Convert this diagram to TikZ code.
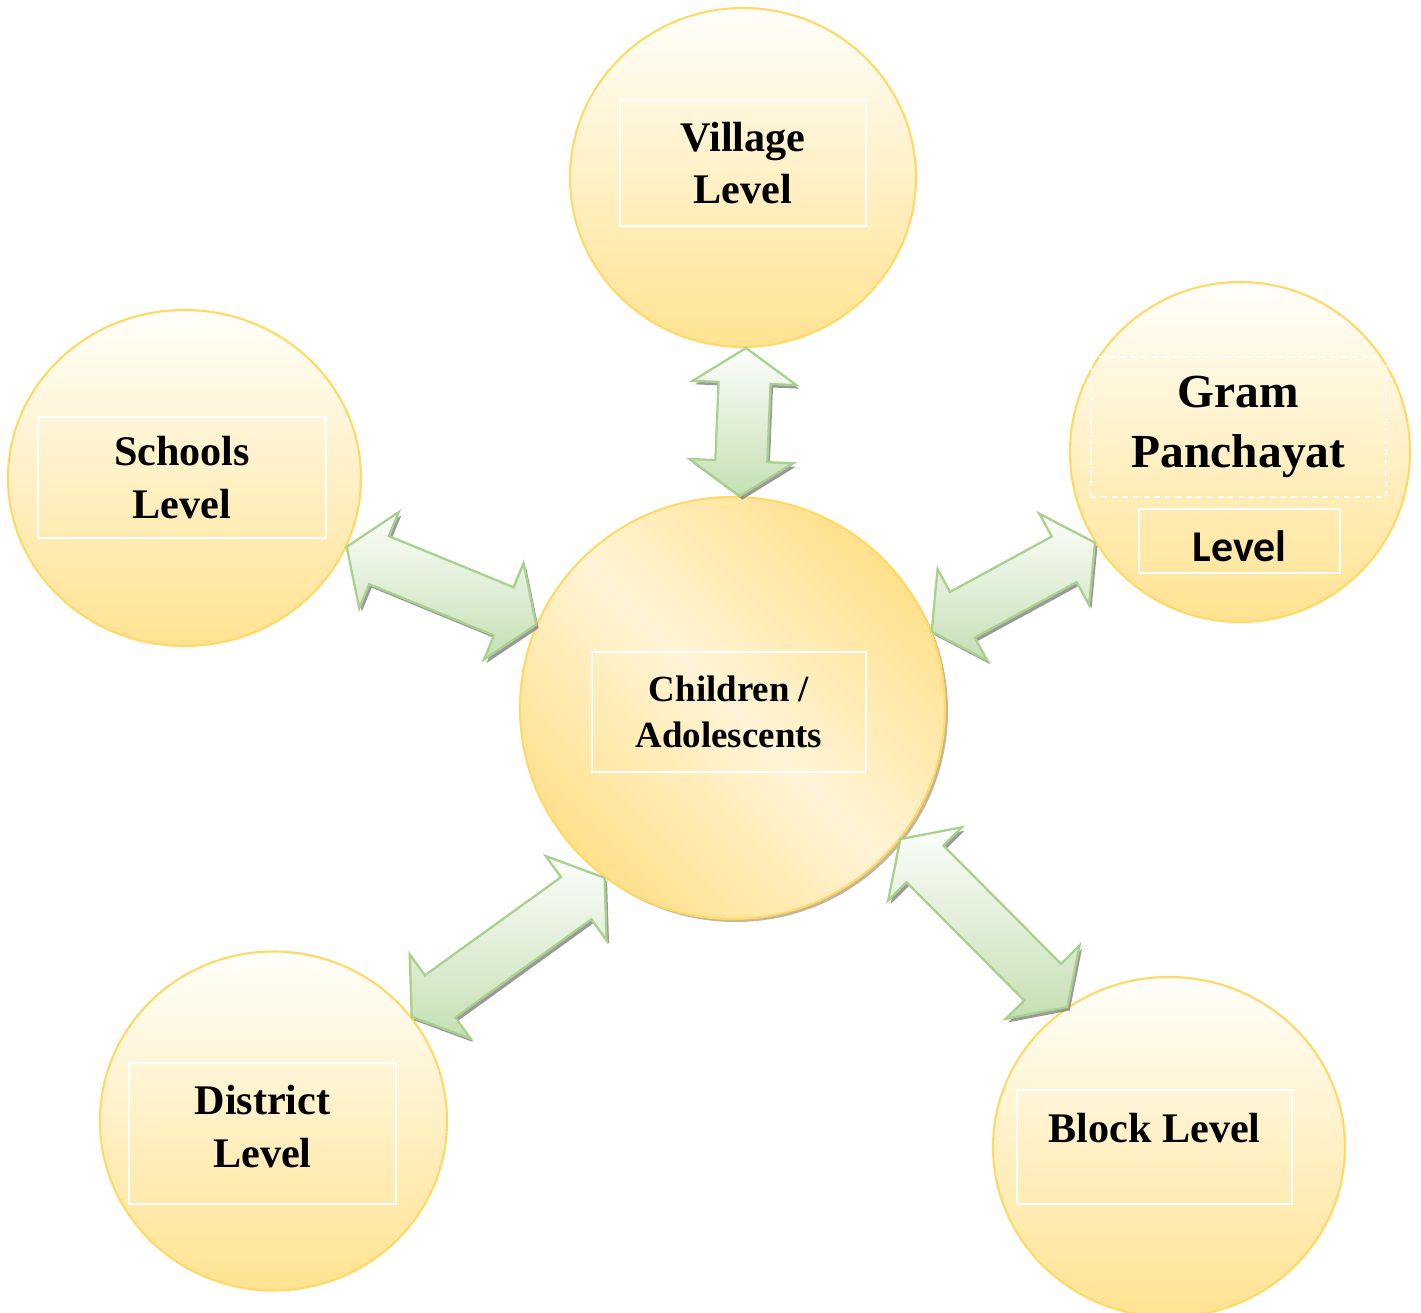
\documentclass[tikz,border=0pt]{standalone}
\usepackage{fontspec}
\setmainfont{Liberation Serif}
\newfontfamily\calibri{Carlito}
\usetikzlibrary{calc,shapes.geometric,shadows}

\definecolor{ringline}{HTML}{FFD966}
\definecolor{ringtop}{HTML}{FFFEFA}
\definecolor{ringbot}{HTML}{FFE391}
\definecolor{coredark}{HTML}{FFD86E}
\definecolor{corelight}{HTML}{FFF4D6}
\definecolor{coreshade}{HTML}{B8A47A}
\definecolor{arrline}{HTML}{A9D18E}
\definecolor{arrtop}{HTML}{FCFDFB}
\definecolor{arrbot}{HTML}{C5E0B4}

\pgfdeclarehorizontalshading{coreband}{100bp}{color(0bp)=(coredark); color(15bp)=(coredark);
  color(50bp)=(corelight); color(85bp)=(coredark); color(100bp)=(coredark)}

\tikzset{
  level/.style={ellipse, draw=ringline, line width=1.2pt, top color=ringtop, bottom color=ringbot, inner sep=0pt},
  core/.style={ellipse, draw=ringline, line width=1.2pt, inner sep=0pt,
    shading=coreband, shading angle=45,
    drop shadow={shadow xshift=0.06cm, shadow yshift=-0.06cm, fill=coreshade, opacity=0.8}},
  labelbox/.style={draw=white, line width=0.8pt, align=center, inner sep=0pt,
    font=\bfseries\fontsize{24}{30}\selectfont},
  twoway/.style={draw=arrline, line width=1.3pt, top color=arrtop, bottom color=arrbot,
    drop shadow={shadow xshift=0.05cm, shadow yshift=-0.07cm, fill=black!50, opacity=0.8},
    to path={
      -- ($(\tikztostart)!0.7cm!(\tikztotarget)!1.04cm!90:(\tikztotarget)$)
      -- ($(\tikztostart)!0.7cm!(\tikztotarget)!0.52cm!90:(\tikztotarget)$)
      -- ($(\tikztotarget)!0.7cm!(\tikztostart)!0.52cm!-90:(\tikztostart)$)
      -- ($(\tikztotarget)!0.7cm!(\tikztostart)!1.04cm!-90:(\tikztostart)$)
      -- (\tikztotarget)
      -- ($(\tikztotarget)!0.7cm!(\tikztostart)!1.04cm!90:(\tikztostart)$)
      -- ($(\tikztotarget)!0.7cm!(\tikztostart)!0.52cm!90:(\tikztostart)$)
      -- ($(\tikztostart)!0.7cm!(\tikztotarget)!0.52cm!-90:(\tikztotarget)$)
      -- ($(\tikztostart)!0.7cm!(\tikztotarget)!1.04cm!-90:(\tikztotarget)$)
      -- cycle}}
}

\begin{document}
\begin{tikzpicture}
  \useasboundingbox (0,0) rectangle (28.42,26.26);
  % circles
  \node[level, minimum width=6.92cm, minimum height=6.78cm] (vil) at (14.86,22.71) {};
  \node[level, minimum width=6.8cm, minimum height=6.8cm] (gram) at (24.8,17.22) {};
  \node[level, minimum width=7.06cm, minimum height=6.72cm] (sch) at (3.69,16.7) {};
  \node[level, minimum width=6.94cm, minimum height=6.78cm] (dist) at (5.47,3.84) {};
  \node[level, minimum width=7.04cm, minimum height=6.8cm] (blk) at (23.38,3.32) {};
  \node[core, minimum width=8.5cm, minimum height=8.44cm] (child) at (14.65,12.1) {};
  % texts
  \node[labelbox, minimum width=4.92cm, minimum height=2.52cm] (viltxt) at (14.86,23.0) {Village\\Level};
  \node[labelbox, minimum width=5.76cm, minimum height=2.42cm] (schtxt) at (3.64,16.71) {Schools\\Level};
  \node[labelbox, dashed, minimum width=5.9cm, minimum height=2.8cm,
    font=\bfseries\fontsize{27}{34}\selectfont] (gramtxt) at (24.77,17.72) {Gram\\Panchayat};
  \node[labelbox, minimum width=4.02cm, minimum height=1.28cm, text height=0.82cm,
    font=\calibri\bfseries\fontsize{25}{30}\selectfont] (gramlvl) at (24.79,15.44) {Level};
  \node[labelbox, minimum width=5.48cm, minimum height=2.4cm,
    font=\bfseries\fontsize{21}{26}\selectfont] (childtxt) at (14.58,12.02) {Children /\\Adolescents};
  \node[labelbox, minimum width=5.34cm, minimum height=2.82cm, text depth=0.28cm] (disttxt) at (5.25,3.59) {District\\Level};
  \node[labelbox, minimum width=5.5cm, minimum height=2.28cm, text depth=0.76cm] (blktxt) at (23.09,3.32) {Block Level};
  % arrows
  \draw[twoway] (vil.271) to (child.88);
  \draw[twoway] (sch.337) to (child.157);
  \draw[twoway] (child.21) to (gram.212);
  \draw[twoway] (child.322) to (blk.126);
  \draw[twoway] (dist.37) to (child.233);
\end{tikzpicture}
\end{document}
